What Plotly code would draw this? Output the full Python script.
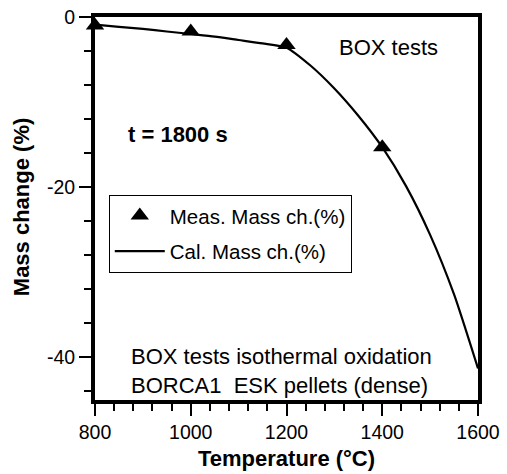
import plotly.graph_objects as go

# Measured mass change after isothermal oxidation (BOX tests, t = 1800 s)
meas_temp = [800, 1000, 1200, 1400]
meas_mass = [-1.0, -1.7, -3.3, -15.3]

# Calculated mass change curve
calc_temp = [800, 850, 900, 950, 1000, 1050, 1100, 1150, 1200,
             1250, 1300, 1350, 1400, 1450, 1500, 1550, 1600]
calc_mass = [-0.9, -1.15, -1.4, -1.7, -2.0, -2.3, -2.7, -3.1, -3.6,
             -5.7, -8.4, -11.6, -15.3, -19.9, -25.6, -32.6, -41.3]

x_ticks = [800, 1000, 1200, 1400, 1600]
y_ticks = [0, -20, -40]
y_ticktext = ["0", "-20", "-40"]

FONT = "Liberation Sans, Arial, sans-serif"

fig = go.Figure()

fig.add_trace(go.Scatter(
    x=meas_temp, y=meas_mass, mode="markers",
    name="Meas. Mass ch.(%)",
    marker=dict(symbol="triangle-up", size=16, color="black"),
    cliponaxis=False, legendgroup="a",
))
fig.add_trace(go.Scatter(
    x=calc_temp, y=calc_mass, mode="lines",
    name="Cal. Mass ch.(%)",
    line=dict(color="black", width=2.2, shape="spline", smoothing=0.6),
    cliponaxis=False, legendgroup="b",
))

axis_common = dict(
    showline=True, linecolor="black", linewidth=4, mirror=True,
    ticks="outside", tickcolor="black", tickwidth=2, ticklen=12,
    showgrid=False, zeroline=False, automargin=False,
    tickfont=dict(family=FONT, size=19.5, color="black"),
)

fig.update_xaxes(
    range=[800, 1600], tickvals=x_ticks,
    minor=dict(ticks="outside", dtick=40, tick0=800, ticklen=7,
               tickwidth=2, tickcolor="black", showgrid=False),
    **axis_common,
)
fig.update_yaxes(
    range=[-45, 0], tickvals=y_ticks, ticktext=y_ticktext,
    minor=dict(ticks="outside", dtick=4, tick0=0, ticklen=7,
               tickwidth=2, tickcolor="black", showgrid=False),
    **axis_common,
)

# Axis titles
title_font = dict(family=FONT, size=22, color="black", weight="bold")
fig.add_annotation(xref="paper", yref="paper", x=0.501, y=-0.153,
                   text="Temperature (°C)", showarrow=False,
                   xanchor="center", yanchor="middle", font=title_font)
fig.add_annotation(xref="paper", yref="paper", x=-0.19, y=0.504,
                   text="Mass change (%)", showarrow=False, textangle=-90,
                   xanchor="center", yanchor="middle", font=title_font)

# Text labels inside the plot
fig.add_annotation(x=1412, y=-3.6, text="BOX tests", showarrow=False,
                   xanchor="center", yanchor="middle",
                   font=dict(family=FONT, size=22, color="black"))
fig.add_annotation(x=864, y=-13.8, text="<b>t = 1800 s</b>", showarrow=False,
                   xanchor="left", yanchor="middle",
                   font=dict(family=FONT, size=22, color="black"))
fig.add_annotation(x=872, y=-39.9, text="BOX tests isothermal oxidation",
                   showarrow=False, xanchor="left", yanchor="middle",
                   font=dict(family=FONT, size=22, color="black"))
fig.add_annotation(x=872, y=-43.3, text="BORCA1  ESK pellets (dense)",
                   showarrow=False, xanchor="left", yanchor="middle",
                   font=dict(family=FONT, size=22, color="black"))

fig.update_layout(
    width=507, height=474,
    margin=dict(l=95, r=29, t=17, b=74),
    paper_bgcolor="white", plot_bgcolor="white",
    font=dict(family=FONT, color="black"),
    showlegend=True,
    legend=dict(
        x=0.036, y=0.536, xanchor="left", yanchor="top",
        bgcolor="white", bordercolor="black", borderwidth=1,
        font=dict(family=FONT, size=20.5, color="black"),
        tracegroupgap=6, itemwidth=50,
    ),
)

fig.write_html("out.html")
